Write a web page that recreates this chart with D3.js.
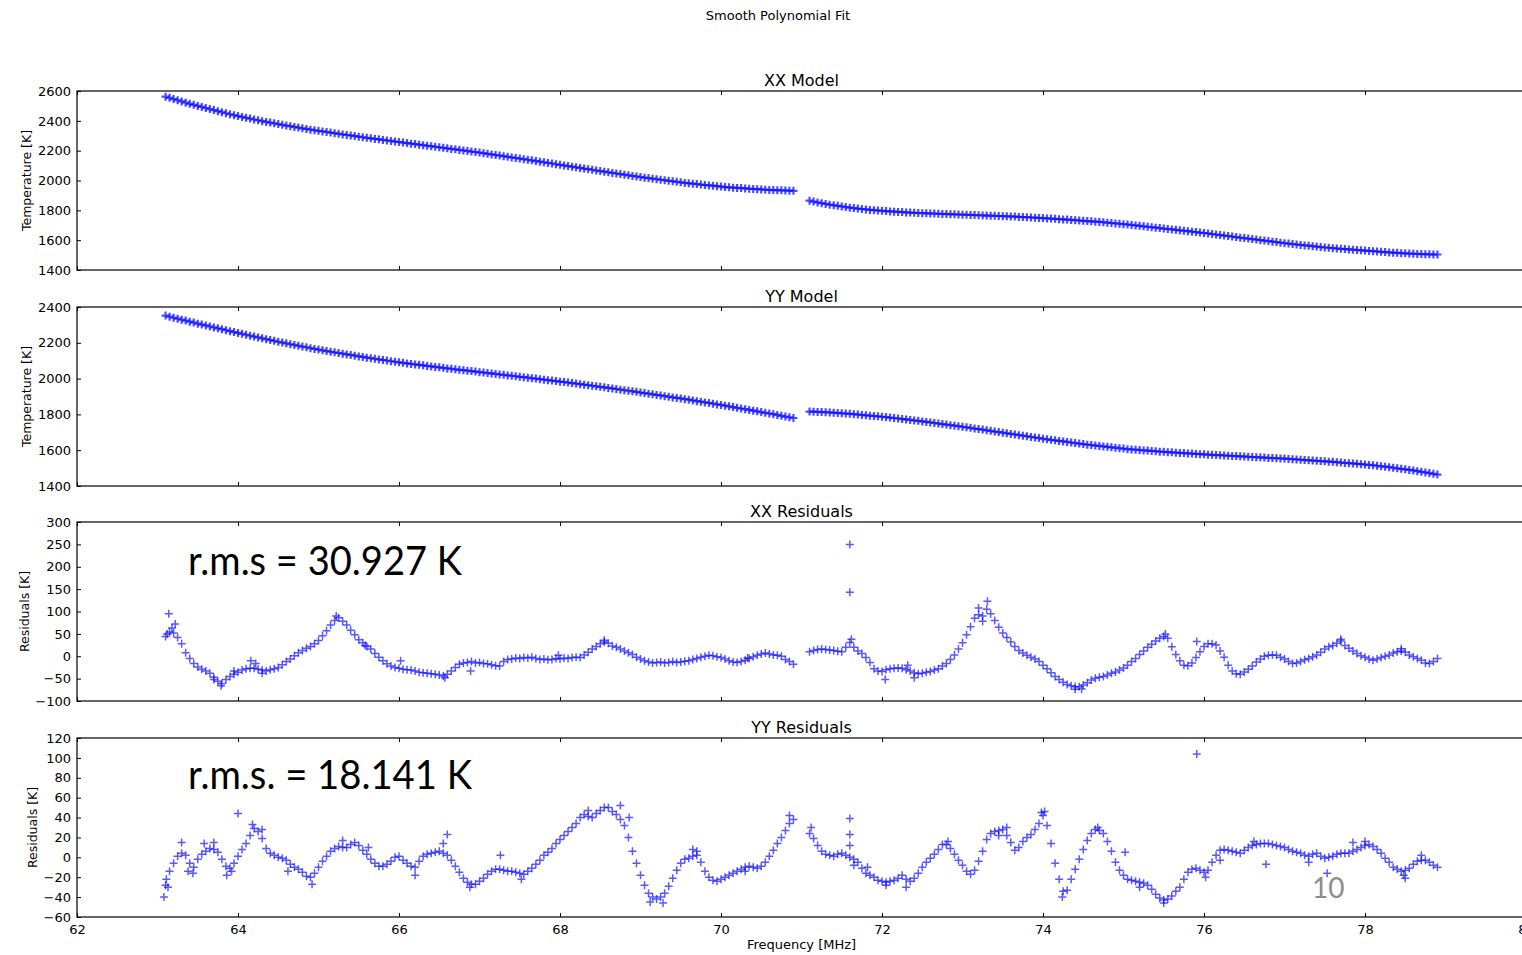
<!DOCTYPE html>
<html>
<head>
<meta charset="utf-8">
<script src="https://cdn.jsdelivr.net/npm/d3@7"></script>
<style>
	body { margin: 0; background: #fff; }
	svg { display: block; }
</style>
</head>
<body>
<svg id="chart" width="1522" height="955"></svg>
<script>

// channel frequencies (MHz), lower and upper band
const freqLow = [
	63.10,63.15,63.20,63.25,63.30,63.35,63.40,63.45,63.50,63.55,
	63.60,63.65,63.70,63.75,63.80,63.85,63.90,63.95,64.00,64.05,
	64.10,64.15,64.20,64.25,64.30,64.35,64.40,64.45,64.50,64.55,
	64.60,64.65,64.70,64.75,64.80,64.85,64.90,64.95,65.00,65.05,
	65.10,65.15,65.20,65.25,65.30,65.35,65.40,65.45,65.50,65.55,
	65.60,65.65,65.70,65.75,65.80,65.85,65.90,65.95,66.00,66.05,
	66.10,66.15,66.20,66.25,66.30,66.35,66.40,66.45,66.50,66.55,
	66.60,66.65,66.70,66.75,66.80,66.85,66.90,66.95,67.00,67.05,
	67.10,67.15,67.20,67.25,67.30,67.35,67.40,67.45,67.50,67.55,
	67.60,67.65,67.70,67.75,67.80,67.85,67.90,67.95,68.00,68.05,
	68.10,68.15,68.20,68.25,68.30,68.35,68.40,68.45,68.50,68.55,
	68.60,68.65,68.70,68.75,68.80,68.85,68.90,68.95,69.00,69.05,
	69.10,69.15,69.20,69.25,69.30,69.35,69.40,69.45,69.50,69.55,
	69.60,69.65,69.70,69.75,69.80,69.85,69.90,69.95,70.00,70.05,
	70.10,70.15,70.20,70.25,70.30,70.35,70.40,70.45,70.50,70.55,
	70.60,70.65,70.70,70.75,70.80,70.85,70.90
]
const freqHigh = [
	71.10,71.15,71.20,71.25,71.30,71.35,71.40,71.45,71.50,71.55,
	71.60,71.65,71.70,71.75,71.80,71.85,71.90,71.95,72.00,72.05,
	72.10,72.15,72.20,72.25,72.30,72.35,72.40,72.45,72.50,72.55,
	72.60,72.65,72.70,72.75,72.80,72.85,72.90,72.95,73.00,73.05,
	73.10,73.15,73.20,73.25,73.30,73.35,73.40,73.45,73.50,73.55,
	73.60,73.65,73.70,73.75,73.80,73.85,73.90,73.95,74.00,74.05,
	74.10,74.15,74.20,74.25,74.30,74.35,74.40,74.45,74.50,74.55,
	74.60,74.65,74.70,74.75,74.80,74.85,74.90,74.95,75.00,75.05,
	75.10,75.15,75.20,75.25,75.30,75.35,75.40,75.45,75.50,75.55,
	75.60,75.65,75.70,75.75,75.80,75.85,75.90,75.95,76.00,76.05,
	76.10,76.15,76.20,76.25,76.30,76.35,76.40,76.45,76.50,76.55,
	76.60,76.65,76.70,76.75,76.80,76.85,76.90,76.95,77.00,77.05,
	77.10,77.15,77.20,77.25,77.30,77.35,77.40,77.45,77.50,77.55,
	77.60,77.65,77.70,77.75,77.80,77.85,77.90,77.95,78.00,78.05,
	78.10,78.15,78.20,78.25,78.30,78.35,78.40,78.45,78.50,78.55,
	78.60,78.65,78.70,78.75,78.80,78.85,78.90
]

// XX model temperature (K)
const xxModelLow = [
	2562,2554,2546,2538,2530,2522,2514,2507,2500,2493,
	2486,2479,2472,2465,2458,2451,2444,2438,2432,2426,
	2420,2415,2409,2404,2398,2393,2388,2383,2378,2373,
	2368,2364,2359,2355,2350,2346,2341,2337,2333,2329,
	2325,2321,2317,2313,2309,2305,2302,2298,2294,2290,
	2286,2283,2279,2276,2272,2268,2265,2261,2258,2254,
	2251,2247,2244,2240,2237,2233,2230,2226,2223,2219,
	2216,2212,2209,2205,2201,2198,2194,2191,2187,2183,
	2179,2175,2171,2167,2163,2159,2155,2151,2147,2143,
	2139,2135,2130,2126,2122,2118,2114,2109,2105,2101,
	2097,2093,2088,2084,2080,2076,2072,2067,2063,2059,
	2055,2051,2047,2043,2039,2035,2031,2027,2023,2019,
	2016,2012,2009,2005,2002,1998,1995,1991,1988,1984,
	1981,1979,1976,1973,1970,1967,1965,1962,1959,1956,
	1954,1952,1950,1949,1947,1945,1943,1942,1940,1938,
	1937,1936,1935,1934,1933,1932,1931
]
const xxModelHigh = [
	1865,1859,1853,1848,1843,1838,1834,1830,1826,1822,
	1818,1815,1812,1809,1806,1803,1801,1799,1797,1795,
	1793,1791,1789,1788,1786,1785,1783,1782,1781,1780,
	1779,1778,1777,1776,1775,1774,1773,1772,1771,1770,
	1769,1768,1767,1766,1765,1764,1763,1762,1761,1760,
	1759,1758,1756,1755,1754,1752,1751,1749,1748,1746,
	1745,1743,1741,1739,1738,1736,1734,1732,1730,1728,
	1726,1724,1722,1720,1717,1715,1712,1710,1707,1705,
	1702,1699,1696,1693,1690,1687,1684,1681,1678,1675,
	1672,1669,1666,1663,1660,1657,1654,1651,1648,1645,
	1641,1638,1634,1631,1628,1624,1621,1617,1614,1611,
	1607,1604,1600,1597,1594,1590,1587,1583,1580,1577,
	1574,1571,1568,1565,1563,1560,1557,1554,1551,1549,
	1546,1544,1542,1540,1538,1536,1534,1532,1530,1528,
	1526,1524,1522,1520,1518,1516,1515,1513,1512,1510,
	1509,1508,1507,1506,1505,1504,1504
]

// YY model temperature (K)
const yyModelLow = [
	2352,2346,2340,2335,2329,2324,2318,2313,2307,2302,
	2297,2291,2286,2281,2276,2270,2265,2260,2255,2250,
	2245,2240,2235,2230,2225,2220,2215,2211,2206,2201,
	2197,2192,2188,2183,2179,2175,2170,2166,2162,2158,
	2154,2150,2147,2143,2139,2135,2132,2128,2124,2121,
	2117,2114,2111,2107,2104,2101,2097,2094,2091,2088,
	2085,2082,2079,2077,2074,2071,2068,2065,2063,2060,
	2057,2055,2052,2049,2047,2044,2042,2039,2036,2034,
	2031,2029,2026,2023,2021,2018,2016,2013,2010,2008,
	2005,2002,2000,1997,1994,1991,1989,1986,1983,1981,
	1978,1975,1972,1969,1966,1963,1960,1957,1954,1951,
	1948,1945,1942,1938,1935,1932,1929,1926,1922,1919,
	1916,1912,1909,1906,1902,1899,1895,1892,1889,1885,
	1882,1878,1874,1871,1867,1864,1860,1856,1853,1849,
	1845,1841,1837,1833,1829,1825,1821,1817,1813,1809,
	1805,1801,1797,1792,1788,1784,1780
]
const yyModelHigh = [
	1816,1815,1814,1813,1812,1811,1809,1808,1806,1805,
	1803,1801,1799,1797,1795,1793,1791,1789,1787,1785,
	1782,1780,1777,1774,1772,1769,1766,1764,1761,1758,
	1755,1752,1749,1746,1743,1740,1737,1734,1731,1728,
	1725,1721,1718,1715,1711,1708,1704,1701,1698,1694,
	1691,1688,1684,1681,1678,1674,1671,1668,1664,1661,
	1658,1655,1652,1649,1646,1643,1640,1637,1634,1631,
	1629,1626,1624,1621,1619,1616,1614,1611,1609,1606,
	1604,1603,1601,1599,1598,1596,1594,1592,1591,1589,
	1588,1586,1585,1584,1582,1581,1579,1578,1577,1575,
	1574,1573,1572,1571,1569,1568,1567,1566,1565,1563,
	1562,1561,1560,1559,1557,1556,1555,1554,1553,1551,
	1550,1548,1547,1545,1544,1542,1541,1539,1538,1536,
	1535,1533,1531,1529,1527,1526,1524,1522,1520,1518,
	1516,1513,1510,1508,1505,1502,1499,1496,1493,1490,
	1487,1483,1479,1476,1472,1468,1464
]

// XX residuals (K)
const xxResLow = [
	44,54,52,42,28,8,-5,-16,-24,-29,
	-33,-38,-47,-56,-61,-52,-45,-40,-36,-31,
	-28,-27,-27,-29,-31,-33,-30,-28,-25,-19,
	-12,-6,1,8,13,18,22,28,35,46,
	57,70,80,86,78,70,58,48,37,30,
	22,16,6,-2,-10,-17,-22,-25,-27,-29,
	-30,-31,-33,-36,-37,-38,-39,-40,-42,-44,
	-40,-33,-25,-18,-15,-14,-12,-15,-14,-16,
	-17,-19,-21,-22,-12,-7,-6,-4,-5,-3,
	-4,-2,-5,-7,-6,-8,-7,-5,-6,-4,
	-5,-3,-2,-3,3,9,16,22,28,32,
	29,23,20,16,12,8,4,-2,-6,-10,
	-13,-15,-14,-13,-15,-14,-12,-14,-13,-11,
	-10,-7,-5,-2,0,2,1,-1,-3,-6,
	-10,-13,-14,-12,-9,-5,-1,2,5,7,
	5,3,2,0,-7,-12,-18
]
const xxResHigh = [
	10,13,15,16,15,14,13,11,10,20,
	31,20,12,6,-3,-14,-28,-33,-34,-30,
	-28,-27,-26,-27,-30,-33,-37,-39,-38,-36,
	-34,-31,-28,-22,-16,-7,3,16,30,48,
	66,85,93,90,105,95,80,65,52,42,
	32,22,13,7,2,-2,-6,-12,-20,-28,
	-37,-45,-52,-58,-63,-66,-68,-68,-64,-59,
	-53,-49,-47,-45,-42,-38,-35,-31,-26,-20,
	-12,-5,4,12,20,27,34,40,44,40,
	21,4,-10,-20,-21,-15,-3,10,22,28,
	28,25,12,-2,-20,-33,-39,-40,-35,-29,
	-22,-13,-6,0,2,3,2,-2,-6,-12,
	-16,-15,-12,-8,-5,-1,3,9,16,21,
	24,29,34,24,18,12,6,1,-2,-6,
	-9,-6,-3,0,3,7,10,12,9,3,
	-1,-5,-9,-15,-16,-12,-5
]
const xxResExtraFreq = [63.14,63.18,63.22,63.12,63.79,63.70,63.95,64.16,64.22,64.30,65.22,65.58,66.57,66.89,66.02,67.98,68.55,70.33,
	71.60,71.60,71.62,72.04,72.40,72.32,73.31,73.20,73.25,74.40,74.48,75.91,75.52,77.70,78.45]
const xxResExtraVal = [95,63,72,50,-66,-52,-33,-10,-16,-38,90,24,-48,-33,-10,2,36,-4,
	250,143,38,-52,-48,-20,123,108,78,-74,-73,33,50,38,17]

// YY residuals (K)
const yyResLow = [
	-28,-14,-6,1,4,2,-6,-10,-2,3,
	6,9,8,5,-2,-9,-11,-6,1,8,
	14,22,29,26,19,9,4,2,0,-1,
	-3,-7,-10,-12,-15,-19,-20,-16,-10,-4,
	1,6,9,11,10,10,13,15,12,7,
	3,-2,-6,-9,-9,-7,-4,0,1,-3,
	-6,-9,-10,-4,1,3,4,5,6,4,
	2,-3,-9,-15,-21,-25,-27,-27,-24,-21,
	-17,-14,-12,-12,-13,-14,-14,-15,-16,-17,
	-14,-11,-7,-3,2,5,9,14,18,22,
	26,30,34,40,43,41,40,44,47,50,
	50,46,43,38,32,20,6,-6,-18,-28,
	-36,-40,-42,-40,-36,-29,-21,-13,-6,-2,
	-1,1,2,-5,-14,-20,-23,-24,-22,-20,
	-18,-16,-14,-12,-10,-9,-10,-11,-9,-5,
	1,7,14,20,27,34,38
]
const yyResHigh = [
	24,19,12,6,3,2,1,3,4,2,
	0,-2,-5,-11,-16,-18,-20,-23,-24,-25,
	-24,-23,-21,-18,-22,-24,-21,-16,-10,-5,
	-1,3,8,13,13,9,3,-3,-8,-14,
	-17,-13,-4,6,18,24,26,27,28,22,
	15,7,10,16,20,23,28,34,42,32,
	14,-6,-22,-34,-33,-22,-12,-2,8,17,
	24,28,27,24,16,6,-5,-13,-18,-22,
	-23,-24,-25,-26,-28,-32,-37,-41,-43,-42,
	-39,-34,-30,-22,-15,-12,-11,-13,-15,-13,
	-5,2,7,8,7,6,5,4,7,10,
	12,13,14,14,14,13,12,11,10,8,
	6,5,4,2,1,3,4,1,-1,0,
	1,3,4,4,4,6,8,10,12,13,
	11,8,4,-1,-5,-10,-12,-14,-13,-11,
	-7,-4,-3,-3,-5,-8,-10
]
const yyResExtraFreq = [63.08,63.11,63.13,63.30,63.38,63.44,63.58,63.70,63.86,63.92,64.00,64.18,64.30,64.62,64.92,65.30,65.62,66.20,
	66.55,66.60,66.88,67.26,67.52,68.35,68.75,68.86,69.12,69.28,69.65,69.70,70.30,70.85,
	71.12,71.60,71.60,71.60,71.65,71.82,72.30,72.05,72.82,73.45,73.55,73.98,74.02,74.24,74.68,75.02,
	75.20,75.50,75.91,76.02,76.20,76.62,76.77,77.30,77.53,77.85,78.00,78.48,78.50,78.70]
const yyResExtraVal = [-40,-22,-30,15,-14,-16,14,15,-18,-14,44,33,28,-14,-27,17,10,-18,
	14,23,-30,2,-22,47,52,40,-45,-46,8,6,-14,42,
	30,39,23,12,-8,-10,-30,-28,16,22,30,45,46,-40,30,5,
	-30,-46,104,-20,-3,16,-7,-5,-16,15,16,-18,-21,2]

const xTicks = [62, 64, 66, 68, 70, 72, 74, 76, 78, 80]
const xxModelTicks = [1400, 1600, 1800, 2000, 2200, 2400, 2600]
const yyModelTicks = [1400, 1600, 1800, 2000, 2200, 2400]
const xxResTicks = [-100, -50, 0, 50, 100, 150, 200, 250, 300]
const yyResTicks = [-60, -40, -20, 0, 20, 40, 60, 80, 100, 120]

const panelTitles = ['XX Model', 'YY Model', 'XX Residuals', 'YY Residuals']
const yLabels = ['Temperature [K]', 'Temperature [K]', 'Residuals [K]', 'Residuals [K]']
const rmsNotes = ['r.m.s = 30.927 K', 'r.m.s. = 18.141 K']

const svg = d3.select('#chart')
const width = +svg.attr('width')
const height = +svg.attr('height')

const tickFont = 'DejaVu Sans, Liberation Sans, sans-serif'
const left = 77
const right = 1526
const panelHeight = 179

const xScale = d3.scaleLinear()
	.domain([62, 80])
	.range([left, right])

// model panels get a heavier marker so the dense channels read as a band
const panels = [
	{ticks: xxModelTicks, low: xxModelLow, high: xxModelHigh, top: 91, labelX: 31, markW: 2.2, markO: 0.7},
	{ticks: yyModelTicks, low: yyModelLow, high: yyModelHigh, top: 307, labelX: 31, markW: 2.2, markO: 0.7},
	{ticks: xxResTicks, low: xxResLow, high: xxResHigh, extraF: xxResExtraFreq, extraV: xxResExtraVal, top: 522, labelX: 29, markW: 1.5, markO: 0.65},
	{ticks: yyResTicks, low: yyResLow, high: yyResHigh, extraF: yyResExtraFreq, extraV: yyResExtraVal, top: 738, labelX: 37, markW: 1.5, markO: 0.65}
]

const cross = 'M-4,0H4M0,-4V4'

panels.forEach((p, i) => {
	const yScale = d3.scaleLinear()
		.domain(d3.extent(p.ticks))
		.range([p.top + panelHeight, p.top])

	let points = freqLow.map((f, j) => [f, p.low[j]])
		.concat(freqHigh.map((f, j) => [f, p.high[j]]))
	if (p.extraF) {
		points = points.concat(p.extraF.map((f, j) => [f, p.extraV[j]]))
	}

	const g = svg.append('g')

	g.append('g')
		.selectAll('path')
		.data(points)
		.enter().append('path')
		.attr('d', cross)
		.attr('transform', d => `translate(${xScale(d[0])},${yScale(d[1])})`)
		.attr('fill', 'none')
		.attr('stroke', '#0000ff')
		.attr('stroke-opacity', p.markO)
		.attr('stroke-width', p.markW)

	const yAxis = d3.axisLeft(yScale)
		.tickValues(p.ticks)
		.tickSizeInner(-4)
		.tickSizeOuter(0)
		.tickPadding(6)
		.tickFormat(d3.format('d'))

	const yAxisG = g.append('g')
		.attr('transform', `translate(${left},0)`)
		.call(yAxis)
	yAxisG.select('.domain').remove()
	yAxisG.attr('font-family', tickFont).attr('font-size', 13)

	const xTop = d3.axisTop(xScale)
		.tickValues(xTicks)
		.tickSizeInner(-4)
		.tickSizeOuter(0)
		.tickFormat('')
	g.append('g')
		.attr('transform', `translate(0,${p.top})`)
		.call(xTop)
		.select('.domain').remove()

	const xBottom = d3.axisBottom(xScale)
		.tickValues(xTicks)
		.tickSizeInner(-4)
		.tickSizeOuter(0)
		.tickPadding(8)
		.tickFormat(i == panels.length - 1 ? d3.format('d') : '')
	const xAxisG = g.append('g')
		.attr('transform', `translate(0,${p.top + panelHeight})`)
		.call(xBottom)
	xAxisG.select('.domain').remove()
	xAxisG.attr('font-family', tickFont).attr('font-size', 13)

	g.append('rect')
		.attr('x', left)
		.attr('y', p.top)
		.attr('width', right - left)
		.attr('height', panelHeight)
		.attr('fill', 'none')
		.attr('stroke', '#000')
		.attr('stroke-width', 1.2)

	g.append('text')
		.text(panelTitles[i])
		.attr('x', (left + right) / 2)
		.attr('y', p.top - 5)
		.attr('text-anchor', 'middle')
		.attr('font-family', tickFont)
		.attr('font-size', 16)

	g.append('text')
		.text(yLabels[i])
		.attr('transform', `translate(${p.labelX},${p.top + panelHeight / 2}) rotate(-90)`)
		.attr('text-anchor', 'middle')
		.attr('font-family', tickFont)
		.attr('font-size', 12.5)
})

svg.append('text')
	.text('Smooth Polynomial Fit')
	.attr('x', 778)
	.attr('y', 20)
	.attr('text-anchor', 'middle')
	.attr('font-family', tickFont)
	.attr('font-size', 13)

svg.append('text')
	.text('Frequency [MHz]')
	.attr('x', (left + right) / 2)
	.attr('y', 949)
	.attr('text-anchor', 'middle')
	.attr('font-family', tickFont)
	.attr('font-size', 13)

// r.m.s. notes pasted on the residual panels
svg.append('text')
	.text(rmsNotes[0])
	.attr('x', 188)
	.attr('y', 575)
	.attr('font-family', 'Lato, sans-serif')
	.attr('font-size', 40)
	.attr('textLength', 274)
	.attr('lengthAdjust', 'spacingAndGlyphs')

svg.append('text')
	.text(rmsNotes[1])
	.attr('x', 188)
	.attr('y', 789)
	.attr('font-family', 'Lato, sans-serif')
	.attr('font-size', 40)
	.attr('textLength', 284)
	.attr('lengthAdjust', 'spacingAndGlyphs')

// slide number
svg.append('text')
	.text('10')
	.attr('x', 1312)
	.attr('y', 898)
	.attr('font-family', 'Lato, sans-serif')
	.attr('font-size', 28)
	.attr('fill', '#8c8c8c')

</script>
</body>
</html>
